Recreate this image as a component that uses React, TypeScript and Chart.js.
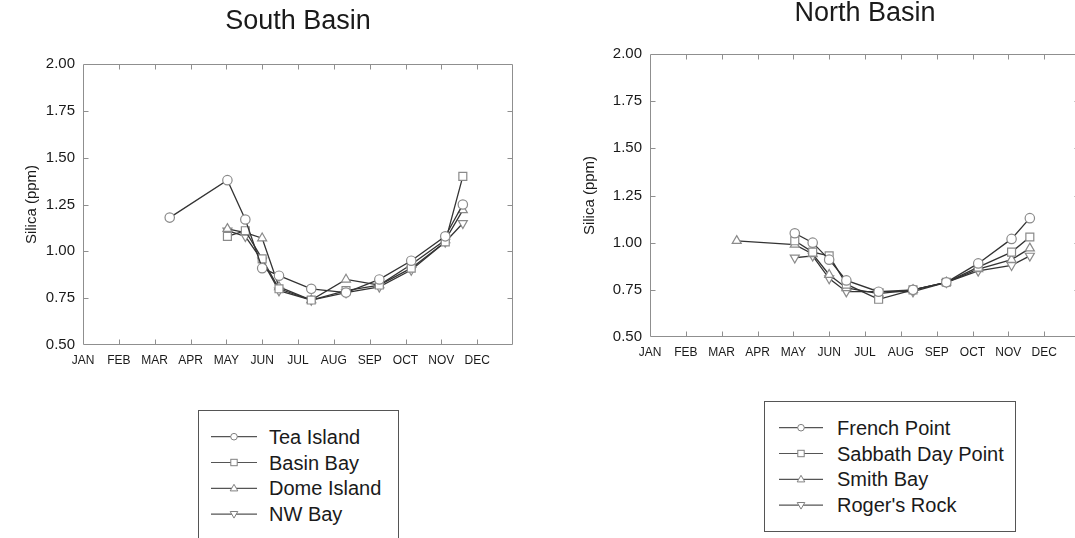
import React, { useEffect, useRef } from "react";
import { Chart, registerables } from "chart.js";

Chart.register(...registerables);

// ---------- data ----------
const MONTHS = ["JAN", "FEB", "MAR", "APR", "MAY", "JUN", "JUL", "AUG", "SEP", "OCT", "NOV", "DEC"];
const Y_MIN = 0.5;
const Y_MAX = 2.0;
const Y_STEP = 0.25;

// sampling dates as fractional months (0 = 1 Jan)
const southDates = [4.03, 4.53, 5.0, 5.47, 6.37, 7.34, 8.27, 9.16, 10.11, 10.6];
const teaIslandDates = [2.42, 4.03, 4.53, 5.0, 5.47, 6.37, 7.34, 8.27, 9.16, 10.11, 10.6];
const teaIsland = [1.18, 1.38, 1.17, 0.91, 0.87, 0.8, 0.78, 0.85, 0.95, 1.08, 1.25];
const basinBay = [1.08, 1.11, 0.96, 0.8, 0.74, 0.79, 0.82, 0.91, 1.05, 1.4];
const domeIsland = [1.12, 1.1, 1.07, 0.81, 0.74, 0.85, 0.82, 0.93, 1.06, 1.22];
const nwBay = [1.11, 1.08, 0.95, 0.79, 0.74, 0.78, 0.81, 0.9, 1.05, 1.15];

const northDates = [4.04, 4.54, 5.0, 5.48, 6.38, 7.34, 8.27, 9.16, 10.09, 10.6];
const smithBayDates = [2.42, 4.04, 4.54, 5.0, 5.48, 6.38, 7.34, 8.27, 9.16, 10.09, 10.6];
const frenchPoint = [1.05, 1.0, 0.91, 0.8, 0.74, 0.75, 0.79, 0.89, 1.02, 1.13];
const sabbathDayPoint = [1.01, 0.95, 0.93, 0.78, 0.7, 0.75, 0.79, 0.87, 0.95, 1.03];
const smithBay = [1.01, 0.99, 0.94, 0.83, 0.76, 0.73, 0.75, 0.79, 0.86, 0.91, 0.97];
const rogersRock = [0.92, 0.93, 0.81, 0.74, 0.74, 0.74, 0.79, 0.85, 0.88, 0.93];

const southNames = ["Tea Island", "Basin Bay", "Dome Island", "NW Bay"];
const northNames = ["French Point", "Sabbath Day Point", "Smith Bay", "Roger's Rock"];

// ---------- styling ----------
const FONT = "'Liberation Sans', Arial, Helvetica, sans-serif";
const LINE_COLOR = "#333333";
const MARKER_COLOR = "#8a8a8a";
const FRAME_COLOR = "#8f8f8f";
const TEXT_COLOR = "#1a1a1a";

type Marker = "circle" | "rect" | "triangle" | "down";
const MARKERS: Marker[] = ["circle", "rect", "triangle", "down"];

const pts = (xs: number[], ys: number[]) => ys.map((y, i) => ({ x: xs[i], y }));

function dataset(label: string, xs: number[], ys: number[], marker: Marker) {
  const style = marker === "down" ? "triangle" : marker;
  const radius = marker === "circle" ? 4.7 : marker === "rect" ? 5.6 : 5.2;
  return {
    label,
    data: pts(xs, ys),
    borderColor: LINE_COLOR,
    borderWidth: 1.3,
    backgroundColor: "#ffffff",
    pointStyle: style,
    pointRotation: marker === "down" ? 180 : 0,
    pointRadius: radius,
    pointBorderWidth: 1.2,
    pointBorderColor: MARKER_COLOR,
    pointBackgroundColor: "#ffffff",
    tension: 0,
    fill: false,
  };
}

const framePlugin = {
  id: "frame",
  beforeDatasetsDraw(chart: any) {
    const { ctx, chartArea, scales } = chart;
    const L = Math.round(chartArea.left) + 0.5;
    const R = Math.round(chartArea.right) - 0.5;
    const T = Math.round(chartArea.top) + 0.5;
    const B = Math.round(chartArea.bottom) - 0.5;
    const tl = 5;
    ctx.save();
    ctx.strokeStyle = FRAME_COLOR;
    ctx.lineWidth = 1;
    ctx.beginPath();
    ctx.rect(L, T, R - L, B - T);
    const xs = scales.x;
    xs.ticks.forEach((t: any) => {
      if (t.value <= xs.min || t.value >= xs.max) return;
      const px = Math.round(xs.getPixelForValue(t.value)) + 0.5;
      ctx.moveTo(px, B);
      ctx.lineTo(px, B - tl);
      ctx.moveTo(px, T);
      ctx.lineTo(px, T + tl);
    });
    const ys = scales.y;
    ys.ticks.forEach((t: any) => {
      if (t.value <= ys.min || t.value >= ys.max) return;
      const py = Math.round(ys.getPixelForValue(t.value)) + 0.5;
      ctx.moveTo(L, py);
      ctx.lineTo(L + tl, py);
      ctx.moveTo(R, py);
      ctx.lineTo(R - tl, py);
    });
    ctx.stroke();
    ctx.restore();
  },
};

interface PanelProps {
  title: string;
  datasets: any[];
  left: number;
  width: number;
  height: number;
  padRight: number;
  yAxisWidth: number;
  titlePadTop: number;
  titlePadBottom: number;
  yTitlePad: number;
}

function Panel(p: PanelProps) {
  const ref = useRef<HTMLCanvasElement | null>(null);
  useEffect(() => {
    if (!ref.current) return;
    const chart = new Chart(ref.current, {
      type: "line",
      data: { datasets: p.datasets },
      plugins: [framePlugin],
      options: {
        animation: false,
        responsive: false,
        maintainAspectRatio: false,
        layout: { padding: { left: 0, right: p.padRight, top: 0, bottom: 0 } },
        plugins: {
          legend: { display: false },
          tooltip: { enabled: false },
          title: {
            display: true,
            text: p.title,
            fullSize: false,
            color: TEXT_COLOR,
            font: { family: FONT, size: 27, weight: "normal", lineHeight: 1 },
            padding: { top: p.titlePadTop, bottom: p.titlePadBottom },
          },
        },
        scales: {
          x: {
            type: "linear",
            min: 0,
            max: 12,
            afterFit: (s: any) => {
              s.height = 30;
            },
            grid: { display: false, drawTicks: false },
            border: { display: false },
            ticks: {
              stepSize: 1,
              autoSkip: false,
              maxRotation: 0,
              padding: 8,
              color: TEXT_COLOR,
              font: { family: FONT, size: 12 },
              callback: (v: any) => MONTHS[Number(v)] ?? "",
            },
          },
          y: {
            type: "linear",
            min: Y_MIN,
            max: Y_MAX,
            afterFit: (s: any) => {
              s.width = p.yAxisWidth;
            },
            grid: { display: false, drawTicks: false },
            border: { display: false },
            ticks: {
              stepSize: Y_STEP,
              padding: 8,
              color: TEXT_COLOR,
              font: { family: FONT, size: 15 },
              callback: (v: any) => Number(v).toFixed(2),
            },
            title: {
              display: true,
              text: "Silica (ppm)",
              color: TEXT_COLOR,
              font: { family: FONT, size: 15, lineHeight: 1.2 },
              padding: { top: p.yTitlePad, bottom: 0 },
            },
          },
        },
      } as any,
    });
    return () => chart.destroy();
  }, []);
  return (
    <canvas
      ref={ref}
      width={p.width}
      height={p.height}
      style={{ position: "absolute", left: p.left, top: 0, width: p.width, height: p.height }}
    />
  );
}

function MarkerSvg({ kind, cx, cy }: { kind: Marker; cx: number; cy: number }) {
  const s = { fill: "#fff", stroke: "#808080", strokeWidth: 1 };
  if (kind === "circle") return <circle cx={cx} cy={cy} r={3.3} {...s} />;
  if (kind === "rect") return <rect x={cx - 3.2} y={cy - 3.2} width={6.4} height={6.4} {...s} />;
  if (kind === "triangle")
    return <polygon points={`${cx},${cy - 4} ${cx - 3.8},${cy + 2.6} ${cx + 3.8},${cy + 2.6}`} {...s} />;
  return <polygon points={`${cx},${cy + 4} ${cx - 3.8},${cy - 2.6} ${cx + 3.8},${cy - 2.6}`} {...s} />;
}

interface LegendProps {
  names: string[];
  left: number;
  top: number;
  width: number;
  height: number;
  lineX0: number;
  lineX1: number;
  textX: number;
  firstRow: number;
  rowStep: number;
}

function Legend(p: LegendProps) {
  return (
    <div
      style={{
        position: "absolute",
        left: p.left,
        top: p.top,
        width: p.width,
        height: p.height,
        border: "1px solid #555",
        boxSizing: "border-box",
        background: "#fff",
      }}
    >
      <svg
        width={p.width}
        height={p.height}
        style={{ position: "absolute", left: -1, top: -1, overflow: "visible" }}
      >
        {p.names.map((n, i) => {
          const cy = p.firstRow + i * p.rowStep;
          const cx = (p.lineX0 + p.lineX1) / 2;
          return (
            <g key={n}>
              <line x1={p.lineX0} x2={p.lineX1} y1={cy} y2={cy} stroke="#555" strokeWidth={1.2} />
              <MarkerSvg kind={MARKERS[i]} cx={cx} cy={cy} />
            </g>
          );
        })}
      </svg>
      {p.names.map((n, i) => (
        <div
          key={n}
          style={{
            position: "absolute",
            left: p.textX - 1,
            top: p.firstRow + i * p.rowStep - 13 - 1,
            height: 26,
            lineHeight: "26px",
            fontFamily: FONT,
            fontSize: 20,
            color: TEXT_COLOR,
            whiteSpace: "nowrap",
          }}
        >
          {n}
        </div>
      ))}
    </div>
  );
}

export default function App() {
  const southSets = [
    dataset(southNames[0], teaIslandDates, teaIsland, "circle"),
    dataset(southNames[1], southDates, basinBay, "rect"),
    dataset(southNames[2], southDates, domeIsland, "triangle"),
    dataset(southNames[3], southDates, nwBay, "down"),
  ];
  const northSets = [
    dataset(northNames[0], northDates, frenchPoint, "circle"),
    dataset(northNames[1], northDates, sabbathDayPoint, "rect"),
    dataset(northNames[2], smithBayDates, smithBay, "triangle"),
    dataset(northNames[3], northDates, rogersRock, "down"),
  ];
  return (
    <div
      style={{
        position: "fixed",
        left: 0,
        top: 0,
        width: 1075,
        height: 538,
        overflow: "hidden",
        background: "#fff",
      }}
    >
      <Panel
        title="South Basin"
        datasets={southSets}
        left={0}
        width={545}
        height={375}
        padRight={32}
        yAxisWidth={83}
        titlePadTop={8}
        titlePadBottom={29}
        yTitlePad={23}
      />
      <Panel
        title="North Basin"
        datasets={northSets}
        left={560}
        width={540}
        height={367}
        padRight={20}
        yAxisWidth={90}
        titlePadTop={0}
        titlePadBottom={27}
        yTitlePad={21}
      />
      <Legend
        names={southNames}
        left={198}
        top={410}
        width={201}
        height={140}
        lineX0={13}
        lineX1={59}
        textX={71}
        firstRow={26.7}
        rowStep={25.8}
      />
      <Legend
        names={northNames}
        left={764}
        top={401}
        width={252}
        height={131}
        lineX0={15}
        lineX1={59}
        textX={73}
        firstRow={26.7}
        rowStep={25.8}
      />
    </div>
  );
}
